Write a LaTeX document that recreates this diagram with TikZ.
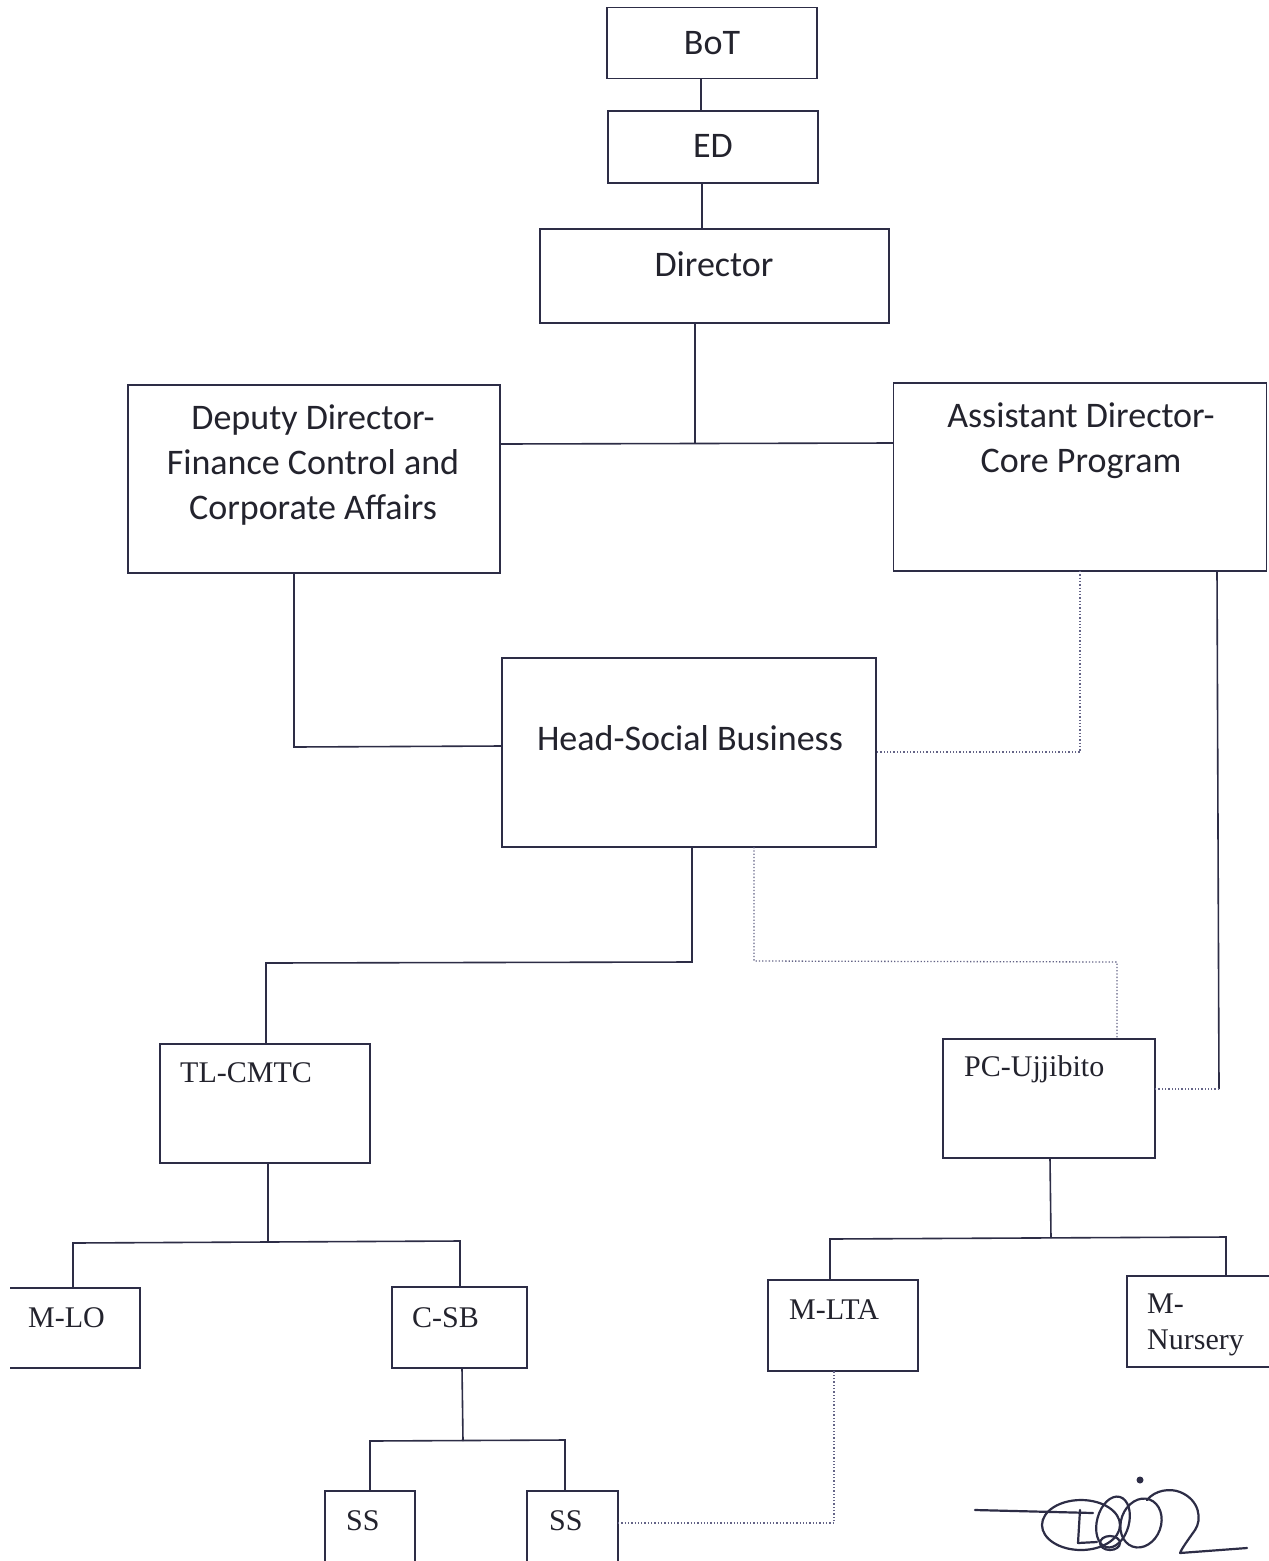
\documentclass[tikz,border=0pt]{standalone}
\usepackage{fontspec}
\setmainfont{Liberation Serif}
\newfontfamily\calib{Carlito}
\definecolor{boxline}{RGB}{45,45,70}
\definecolor{txt}{RGB}{35,35,45}
\definecolor{dotc}{RGB}{100,100,135}
\begin{document}
\begin{tikzpicture}[x=1pt,y=-1pt,
  box/.style={draw=boxline,line width=1.6pt,inner sep=0pt,outer sep=0pt},
  openbox/.style={inner sep=0pt,outer sep=0pt},
  edge/.style={draw=boxline,line width=1.6pt},
  dotline/.style={draw=dotc,line width=1.3pt,dotted},
  ctext/.style={font=\calib\fontsize{36}{45}\selectfont,text=txt,inner sep=0pt,align=center},
  stext/.style={font=\fontsize{30}{36}\selectfont,text=txt,inner sep=0pt,anchor=west,align=left}]
\useasboundingbox[fill=white] (0,0) rectangle (1269,1561);
% boxes
\node[box,minimum width=210,minimum height=71] (bot) at (712,43) {};
\node[box,minimum width=210,minimum height=72] (ed) at (713,147) {};
\node[box,minimum width=349,minimum height=94] (dir) at (714.5,276) {};
\node[box,minimum width=372,minimum height=188] (dep) at (314,479) {};
\node[box,minimum width=373,minimum height=188] (ast) at (1080,477) {};
\node[box,minimum width=374,minimum height=189] (head) at (689,752.5) {};
\node[box,minimum width=210,minimum height=119] (tl) at (265,1103.5) {};
\node[box,minimum width=212,minimum height=119] (pc) at (1049,1098.5) {};
\node[openbox,minimum width=130,minimum height=80] (mlo) at (75,1328) {};
\node[box,minimum width=135,minimum height=81] (csb) at (459.5,1327.5) {};
\node[openbox,minimum width=90,minimum height=90] (ss1) at (370,1536) {};
\node[openbox,minimum width=91,minimum height=90] (ss2) at (572.5,1536) {};
\node[box,minimum width=150,minimum height=91] (mlta) at (843,1325.5) {};
\node[openbox,minimum width=142,minimum height=91] (mnur) at (1198,1321.5) {};
% partial outlines (cut by page edge)
\draw[edge] (mlo.north west) -- (mlo.north east) -- (mlo.south east) -- (mlo.south west);
\draw[edge] (mnur.north east) -- (mnur.north west) -- (mnur.south west) -- (mnur.south east);
\draw[edge] (ss1.south west) -- (ss1.north west) -- (ss1.north east) -- (ss1.south east);
\draw[edge] (ss2.south west) -- (ss2.north west) -- (ss2.north east) -- (ss2.south east);
% texts
\node[ctext] (tbot) at (712,43) {BoT};
\node[ctext] (ted) at (713,146) {ED};
\node[ctext] (tdir) at (714,264) {Director};
\node[ctext] (tdep) at (313,465) {Deputy Director-\\Finance Control and\\Corporate Affairs};
\node[ctext] (tast) at (1081,441) {Assistant Director-\\Core Program};
\node[ctext] (thead) at (690,738) {Head-Social Business};
\node[stext] (ttl) at (180,1073) {TL-CMTC};
\node[stext] (tpc) at (964,1069) {PC-Ujjibito};
\node[stext] (tmlo) at (28,1318) {M-LO};
\node[stext] (tcsb) at (412,1318) {C-SB};
\node[stext] (tss1) at (346,1521) {SS};
\node[stext] (tss2) at (549,1521) {SS};
\node[stext] (tmlta) at (789,1310) {M-LTA};
\node[stext] (tmnur) at (1147,1325) {M-\\Nursery};
% connectors
\draw[edge] (bot.south -| 701,0) -- (ed.north -| 701,0);
\draw[edge] (ed.south -| 702,0) -- (dir.north -| 702,0);
\draw[edge] (dir.south -| 695,0) -- (695,444);
\draw[edge] (dep.east |- 0,444) -- (ast.west |- 0,443);
\draw[edge] (dep.south -| 294,0) -- (294,747) -- (head.west |- 0,746);
\draw[dotline] (ast.south -| 1080,0) -- (1080,752) -- (head.east |- 0,752);
\draw[edge] (ast.south -| 1217,0) -- (1219,1089);
\draw[dotline] (1219,1089) -- (pc.east |- 0,1089);
\draw[edge] (head.south -| 692,0) -- (692,962) -- (266,963) -- (tl.north -| 266,0);
\draw[dotline] (head.south -| 754,0) -- (754,961) -- (1117,962) -- (pc.north -| 1117,0);
\draw[edge] (tl.south -| 268,0) -- (268,1242);
\draw[edge] (mlo.north -| 73,0) -- (73,1243) -- (460,1241) -- (csb.north -| 460,0);
\draw[edge] (csb.south -| 462,0) -- (463,1441);
\draw[edge] (ss1.north -| 370,0) -- (370,1441) -- (565,1440) -- (ss2.north -| 565,0);
\draw[dotline] (ss2.east |- 0,1523) -- (834,1523) -- (mlta.south -| 834,0);
\draw[edge] (pc.south -| 1050,0) -- (1051,1238);
\draw[edge] (mlta.north -| 830,0) -- (830,1239) -- (1226,1237) -- (mnur.north -| 1226,0);
% signature
\begin{scope}[draw=boxline,line width=2.2pt,line cap=round,line join=round]
\draw (975,1510) -- (1093,1513);
\draw (1081,1525) ellipse [x radius=39,y radius=25];
\draw (1080,1510) -- (1078,1543) -- (1097,1542);
\draw (1110,1543) ellipse [x radius=10,y radius=7];
\draw[rotate around={-15:(1113,1522)}] (1113,1522) ellipse [x radius=16,y radius=26];
\draw[rotate around={-20:(1141,1523)}] (1141,1523) ellipse [x radius=20,y radius=25];
\draw (1147,1500) .. controls (1155,1490) and (1170,1488) .. (1180,1492) .. controls (1200,1500) and (1202,1520) .. (1195,1530) .. controls (1188,1540) and (1182,1548) .. (1180,1553) -- (1247,1548);
\fill[boxline] (1140,1480) circle (3.5);
\end{scope}
\end{tikzpicture}
\end{document}
